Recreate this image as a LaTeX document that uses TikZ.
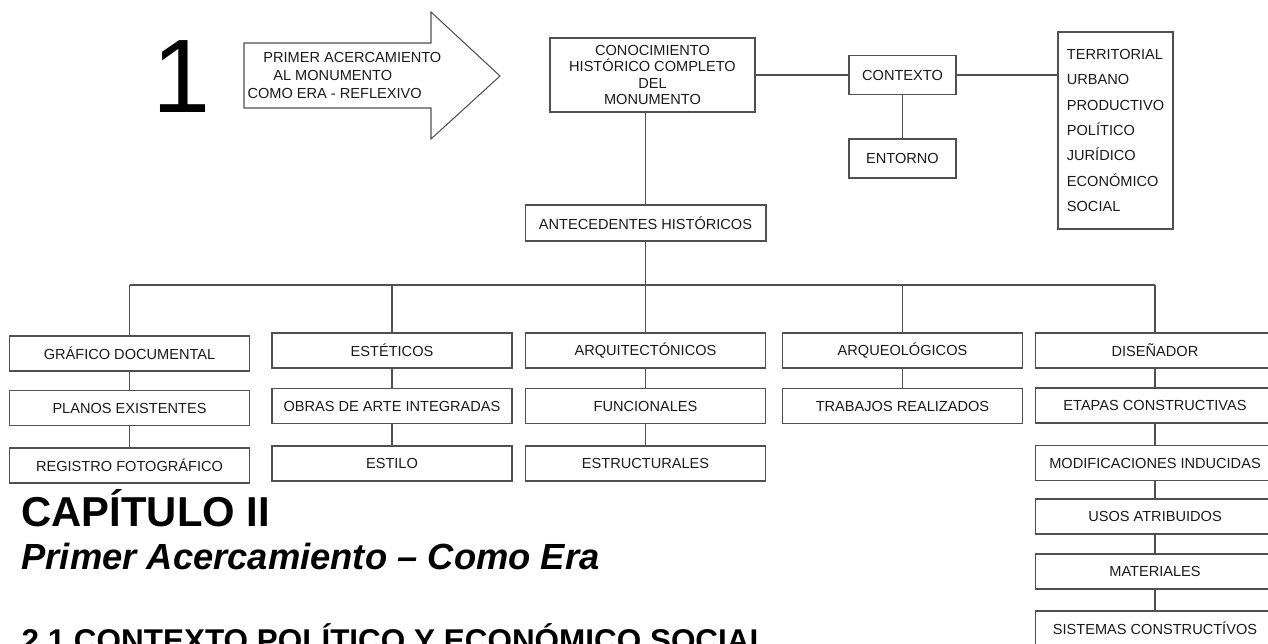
\documentclass[tikz,border=0pt]{standalone}
\usepackage{fontspec}
\setmainfont{Liberation Sans}
\definecolor{linea}{HTML}{505050}
\definecolor{texto}{HTML}{1A1A1A}
\begin{document}
\begin{tikzpicture}
  [x=0.02cm, y=-0.02cm, line width=0.6pt,
   caja/.style={draw=linea, inner sep=0pt, minimum width=4.8cm, minimum height=0.7cm,
                text=texto, font=\fontsize{8.3}{9.3}\selectfont},
   liga/.style={draw=linea},
   titulo/.style={anchor=base west, inner sep=0pt, text=black}]

  \useasboundingbox (0,0) rectangle (1268,644);
  \clip (0,0) rectangle (1268,644);

  % Numero y flecha
  \node[titulo, font=\fontsize{59.5}{60}\selectfont] (num) at (152,113) {1};
  \draw[linea] (244,43) -- (431,43) -- (431,12) -- (500,76) -- (431,139)
    -- (431,108) -- (244,108) -- cycle;
  \node[anchor=north west, inner sep=0pt, align=left, text=texto,
        font=\fontsize{8.3}{10.3}\selectfont] (flecha) at (247,52)
    {\hspace*{9pt}PRIMER ACERCAMIENTO\\\hspace*{14.7pt}AL MONUMENTO\\COMO ERA - REFLEXIVO};

  % Conocimiento y contexto
  \node[caja, align=center, minimum width=4.1cm, minimum height=1.48cm] (con) at (652.5,75)
    {CONOCIMIENTO\\HISTÓRICO COMPLETO\\DEL\\MONUMENTO};
  \node[caja, minimum width=2.14cm, minimum height=0.78cm] (ctx) at (902.5,75) {CONTEXTO};
  \node[caja, minimum width=2.14cm, minimum height=0.78cm] (ent) at (902.5,158.5) {ENTORNO};
  \node[caja, align=left, minimum width=2.3cm, minimum height=3.94cm,
        font=\fontsize{8.3}{14.46}\selectfont] (lst) at (1115.5,130.5)
    {TERRITORIAL\\URBANO\\PRODUCTIVO\\POLÍTICO\\JURÍDICO\\ECONÓMICO\\SOCIAL};

  % Antecedentes
  \node[caja, minimum width=4.82cm, minimum height=0.72cm] (ante) at (645.5,223) {ANTECEDENTES HISTÓRICOS};
  \coordinate (bus) at (0,285);

  % Primera columna
  \node[caja] (gra) at (129.5,353.5) {GRÁFICO DOCUMENTAL};
  \node[caja] (pla) at (129.5,408) {PLANOS EXISTENTES};
  \node[caja] (reg) at (129.5,465.5) {REGISTRO FOTOGRÁFICO};

  % Segunda columna
  \node[caja] (est) at (392,350.5) {ESTÉTICOS};
  \node[caja] (obr) at (392,406) {OBRAS DE ARTE INTEGRADAS};
  \node[caja] (sti) at (392,463.5) {ESTILO};

  % Tercera columna
  \node[caja] (arq) at (645.5,350.5) {ARQUITECTÓNICOS};
  \node[caja] (fun) at (645.5,406) {FUNCIONALES};
  \node[caja] (stru) at (645.5,463.5) {ESTRUCTURALES};

  % Cuarta columna
  \node[caja] (arqe) at (902.5,350.5) {ARQUEOLÓGICOS};
  \node[caja] (tra) at (902.5,406) {TRABAJOS REALIZADOS};

  % Quinta columna
  \node[caja] (dis) at (1155,350.5) {DISEÑADOR};
  \node[caja] (eta) at (1155,405.5) {ETAPAS CONSTRUCTIVAS};
  \node[caja] (mod) at (1155,463) {MODIFICACIONES INDUCIDAS};
  \node[caja] (uso) at (1155,516.5) {USOS ATRIBUIDOS};
  \node[caja] (mat) at (1155,571.5) {MATERIALES};
  \node[caja] (sis) at (1155,628.5) {SISTEMAS CONSTRUCTÍVOS};

  % Conexiones superiores
  \draw[liga] (con.east) -- (ctx.west);
  \draw[liga] (ctx.east) -- (ctx.east -| lst.west);
  \draw[liga] (ctx) -- (ent);
  \draw[liga] (ante.north) -- (ante.north |- con.south);
  \draw[liga] (ante) -- (ante |- bus);

  % Barra y columnas
  \draw[liga] (gra |- bus) -- (dis |- bus);
  \foreach \n in {gra,est,arq,arqe,dis}
    \draw[liga] (\n) -- (\n |- bus);
  \draw[liga] (gra) -- (pla) -- (reg);
  \draw[liga] (est) -- (obr) -- (sti);
  \draw[liga] (arq) -- (fun) -- (stru);
  \draw[liga] (arqe) -- (tra);
  \draw[liga] (dis) -- (eta) -- (mod) -- (uso) -- (mat) -- (sis);

  % Titulos
  \node[titulo, font=\bfseries\fontsize{23.8}{26}\selectfont] (cap) at (21,527) {CAPÍTULO II};
  \node[titulo, font=\bfseries\itshape\fontsize{20.7}{23}\selectfont] (sub) at (21,570)
    {Primer Acercamiento – Como Era};
  \node[titulo, font=\bfseries\fontsize{17.9}{20}\selectfont] (sec) at (21,652)
    {2.1 CONTEXTO POLÍTICO Y ECONÓMICO SOCIAL};
\end{tikzpicture}
\end{document}
